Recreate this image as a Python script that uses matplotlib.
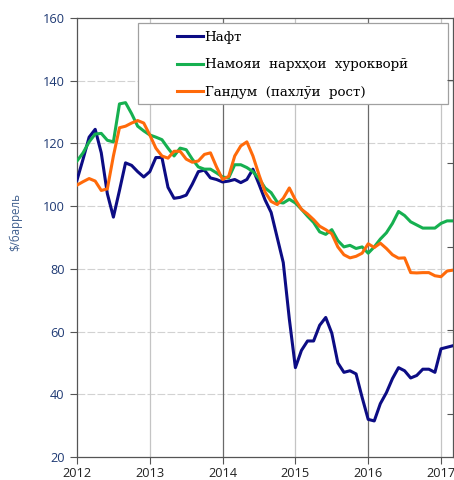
import numpy as np
import matplotlib
matplotlib.use("Agg")
import matplotlib.pyplot as plt
from matplotlib.patches import Rectangle

# monthly values, Jan 2012 .. Mar 2017
oil = [108.3, 115, 122, 124.5, 117, 104, 96.5, 105, 113.8, 113, 111, 109.3,
       111, 115.5, 115.5, 106, 102.5, 102.8, 103.5, 107, 111, 111.5, 109, 108.5,
       107.7, 108, 108.5, 107.5, 108.5, 111.8, 107, 102, 98, 90, 82, 64,
       48.5, 54, 57, 57, 62, 64.5, 59.5, 50, 47, 47.5, 46.5, 39,
       32, 31.5, 37, 40.5, 45, 48.5, 47.5, 45.2, 46, 48, 48, 47,
       54.5, 55, 55.5]
food = [114.4, 117, 120.5, 123, 123.2, 121, 120.5, 132.6, 133, 129.5, 125.5, 124,
        122.7, 122, 121.2, 118.5, 116, 118.5, 118, 115, 112.5, 111.8, 111.8, 110.6,
        109.3, 109, 113.2, 113.2, 112.3, 111, 108.8, 105.8, 104.3, 101.3, 101, 102.2,
        101, 99, 96.8, 94.8, 91.8, 91, 92.5, 89, 87, 87.5, 86.5, 87,
        85, 87, 89.5, 91.5, 94.5, 98.3, 97, 95, 94, 93, 93, 93,
        94.5, 95.3, 95.3]
wheat = [106.7, 107.8, 108.8, 108, 105, 105.5, 116, 125, 125.5, 126.5, 127.3, 126.5,
         122.7, 118.5, 116, 115.3, 117.5, 117.5, 115, 114, 114.4, 116.5, 117, 112.5,
         108.5, 109.5, 116, 119.2, 120.5, 116, 110, 104.5, 101.5, 100.5, 102.5, 105.8,
         102, 99, 97.5, 95.7, 93.6, 92.5, 91.2, 87, 84.5, 83.5, 84, 85,
         88, 86.8, 88.2, 86.5, 84.5, 83.4, 83.5, 78.8, 78.7, 78.8, 78.8, 77.8,
         77.5, 79.3, 79.6]
labels = ["Нафт", "Намояи  нархҳои  хурокворӣ", "Гандум  (пахлӯи  рост)"]
colors = ["#0c0c84", "#16b050", "#ff6a0a"]
years = [2012, 2013, 2014, 2015, 2016, 2017]

t = 2012 + np.arange(len(oil)) / 12.0

fig = plt.figure(figsize=(4.54, 4.8), dpi=100)
ax = fig.add_axes([77 / 454, 23 / 480, 376 / 454, 439 / 480])

# grid
for v in range(40, 160, 20):
    ax.axhline(v, color="#d2d2d2", lw=0.8, ls=(0, (7, 2)), zorder=1)
for y in years[1:]:
    dark = y in (2014, 2016)
    ax.axvline(y, color="#6a6a6a" if dark else "#c4c4c4", lw=0.9, zorder=1)

lines = []
for s, c in zip([oil, food, wheat], colors):
    ln, = ax.plot(t, s, color=c, lw=2.2, solid_joinstyle="round", zorder=3)
    lines.append(ln)

ax.set_xlim(2012, 2017.165)
ax.set_ylim(20, 160)
ax.set_yticks(range(20, 161, 20))
ax.set_xticks(years)

for sp in ax.spines.values():
    sp.set_color("#555555")
    sp.set_linewidth(0.9)

ax.tick_params(axis="y", direction="out", length=5, width=0.8, color="#555555",
               labelsize=9.2, labelcolor="#1f3a74", pad=4)
ax.tick_params(axis="x", direction="out", length=5, width=0.8, color="#555555",
               labelsize=9.2, labelcolor="#222222", pad=2)
for lab in ax.get_xticklabels() + ax.get_yticklabels():
    lab.set_family("Open Sans")

ax.set_ylabel("$/баррель", fontsize=8.3, color="#41608f", family="Open Sans")
ax.yaxis.set_label_coords(-0.145, 0.535)

# right-side inner ticks
ax2 = ax.twinx()
ax2.set_ylim(0, 1)
ax2.set_yticks([0.099, 0.289, 0.479, 0.669, 0.859])
ax2.tick_params(axis="y", direction="in", length=4, width=0.8, color="#555555",
                labelright=False)
for sp in ax2.spines.values():
    sp.set_visible(False)

# legend box
ax.add_patch(Rectangle((0.162, 0.804), 0.825, 0.185, transform=ax.transAxes,
                       facecolor="white", edgecolor="#a0a0a0", lw=0.9, zorder=4))
leg = ax.legend(lines, labels, loc="upper left", bbox_to_anchor=(0.265, 0.971),
                frameon=False, prop={"family": "DejaVu Serif", "size": 9.6},
                handlelength=1.95, handletextpad=0.15, labelspacing=1.1,
                borderpad=0, borderaxespad=0)
leg.set_zorder(5)

fig.savefig("out.png", dpi=100)
